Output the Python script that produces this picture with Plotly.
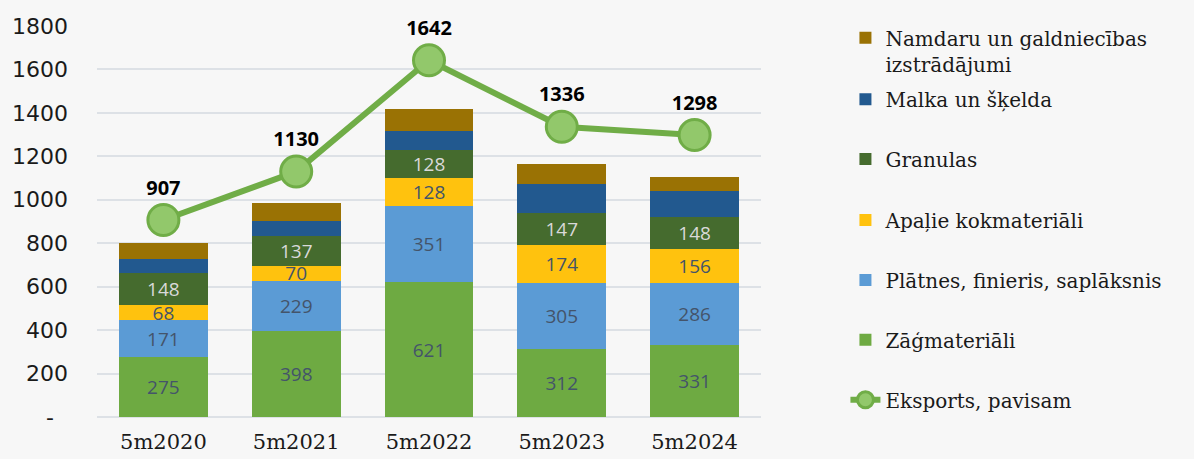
import plotly.graph_objects as go

categories = ["5m2020", "5m2021", "5m2022", "5m2023", "5m2024"]
zagmateriali = [275, 398, 621, 312, 331]
platnes = [171, 229, 351, 305, 286]
apalie = [68, 70, 128, 174, 156]
granulas = [148, 137, 128, 147, 148]
malka = [64, 70, 90, 133, 121]
namdaru = [74, 83, 99, 93, 63]
eksports = [907, 1130, 1642, 1336, 1298]

ytick_vals = [0, 200, 400, 600, 800, 1000, 1200, 1400, 1600, 1800]
ytick_text = ["-\u00a0\u00a0", "200", "400", "600", "800", "1000", "1200", "1400", "1600", "1800"]

label_dark = "#44546A"
label_light = "#D9D9D9"
sans = "Open Sans"
serif = "DejaVu Serif"

bar_series = [
    ("Zāģmateriāli", zagmateriali, "#6EAA42", True, label_dark, "legend6"),
    ("Plātnes, finieris, saplāksnis", platnes, "#5B9BD5", True, label_dark, "legend5"),
    ("Apaļie kokmateriāli", apalie, "#FFC20E", True, label_dark, "legend4"),
    ("Granulas", granulas, "#456B2E", True, label_light, "legend3"),
    ("Malka un šķelda", malka, "#22598F", False, label_dark, "legend2"),
    ("Namdaru un galdniecības<br>izstrādājumi", namdaru, "#9A7204", False, label_dark, "legend"),
]

fig = go.Figure()
for name, vals, color, show_text, tcolor, leg in bar_series:
    fig.add_trace(go.Bar(
        x=categories, y=vals, name=name,
        marker=dict(color=color, line=dict(width=0)),
        text=vals if show_text else None,
        texttemplate="%{y}" if show_text else None,
        textposition="inside" if show_text else "none",
        insidetextanchor="middle",
        textangle=0,
        constraintext="none",
        textfont=dict(family=sans, size=19, color=tcolor),
        legend=leg,
        cliponaxis=False,
    ))

fig.add_trace(go.Scatter(
    x=categories, y=eksports, name="Eksports, pavisam",
    mode="lines+markers+text",
    line=dict(color="#70AD47", width=6),
    marker=dict(size=31, color="#92C86B", line=dict(color="#70AD47", width=3)),
    text=[str(v) for v in eksports],
    textposition="top center",
    textfont=dict(family=sans, size=20, color="#000000", weight="bold"),
    cliponaxis=False,
    legend="legend7",
))

L, R, T, B = 97, 432.5, 25.7, 41.7
W, H = 1194, 459
ph = H - T - B

def ypaper(pix):
    return (H - B - pix) / ph

legend_x = (846 - L) / (W - L - R)
legend_centers = {
    "legend": 50.5, "legend2": 99, "legend3": 159, "legend4": 220,
    "legend5": 280, "legend6": 340, "legend7": 400,
}
legend_font = dict(family=serif, size=20, color="#1A1A1A")
legend_layout = {}
for key, cy in legend_centers.items():
    legend_layout[key] = dict(
        x=legend_x, xanchor="left", y=ypaper(cy), yanchor="middle",
        font=legend_font, bgcolor="rgba(0,0,0,0)", borderwidth=0,
        valign="top" if key == "legend" else "middle",
        itemwidth=30,
    )

fig.update_layout(
    width=W, height=H,
    margin=dict(l=L, r=R, t=T, b=B, pad=0, autoexpand=False),
    paper_bgcolor="#F7F7F7", plot_bgcolor="#F7F7F7",
    barmode="stack", bargap=0.33,
    showlegend=True,
    xaxis=dict(
        showgrid=False, showline=False, zeroline=False,
        tickfont=dict(family=serif, size=21, color="#1A1A1A"),
        ticks="", ticklabelstandoff=10,
    ),
    yaxis=dict(
        range=[0, 1800], tickvals=ytick_vals, ticktext=ytick_text,
        showgrid=True, gridcolor="#DDE1E6", gridwidth=2,
        zeroline=True, zerolinecolor="#DDE1E6", zerolinewidth=2,
        showline=False, ticks="", ticklabelstandoff=28,
        tickfont=dict(family="DejaVu Sans", size=22, color="#1A1A1A"),
    ),
    **legend_layout,
)

fig.write_html(
    "out.html",
    config={"displayModeBar": False},
    post_script="document.body.style.margin='0';document.body.style.background='#F7F7F7';",
)
